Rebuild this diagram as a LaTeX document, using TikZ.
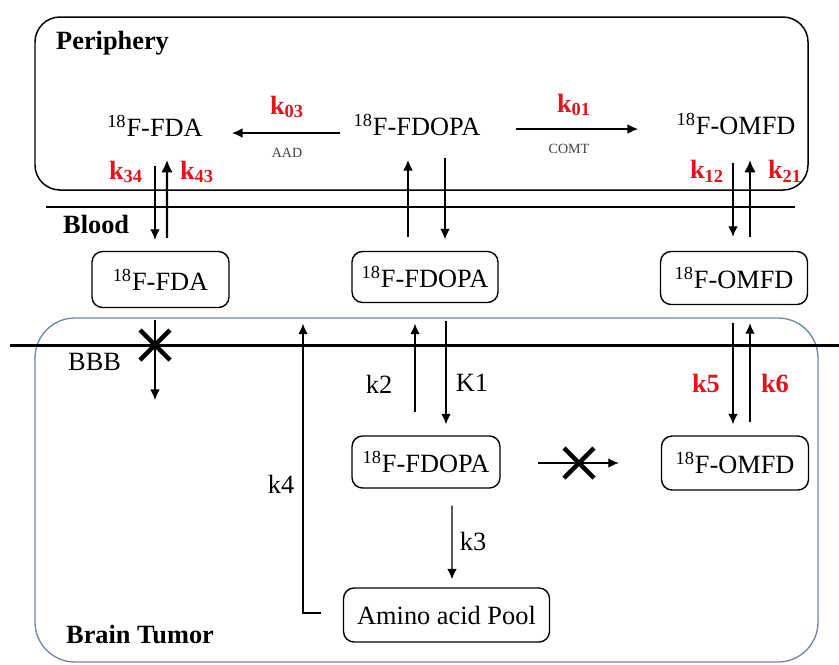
\documentclass[tikz,border=0pt]{standalone}
\usepackage{fontspec}
\setmainfont{Liberation Serif}
\usetikzlibrary{arrows.meta}
\definecolor{kred}{RGB}{228,18,28}
\definecolor{tumorblue}{RGB}{112,132,168}

\begin{document}
\begin{tikzpicture}[x=0.02cm, y=-0.02cm,
    txt/.style={font=\fontsize{15}{18}\selectfont},
    box/.style={draw, line width=0.8pt, rounded corners=6pt, txt, inner sep=0pt},
    zone/.style={font=\bfseries\fontsize{15}{18}\selectfont, anchor=west},
    krate/.style={font=\bfseries\fontsize{15}{18}\selectfont, text=kred},
    enz/.style={font=\fontsize{8}{10}\selectfont, text=black!75},
    arr/.style={-{Latex[length=6pt,width=5.5pt]}, line width=0.75pt},
    boldarr/.style={-{Latex[length=7pt,width=6.5pt]}, line width=1.2pt},
    cross/.style={line width=2.6pt}]
    \useasboundingbox (0,0) rectangle (839,664);

    % Periphery compartment
    \draw[line width=0.85pt, rounded corners=0.5cm] (35,17) rectangle (808,190);
    \node[zone] (periphery) at (50,43) {Periphery};
    \node[txt] (pFDA) at (155,126) {\textsuperscript{18}F-FDA};
    \node[txt] (pFDOPA) at (417,125) {\textsuperscript{18}F-FDOPA};
    \node[txt] (pOMFD) at (736,124) {\textsuperscript{18}F-OMFD};

    % Peripheral metabolism
    \draw[arr] ([shift={(-77,8)}]pFDOPA.center) -- ([shift={(77,7)}]pFDA.center);
    \node[krate] (k03) at (287,107) {k\textsubscript{03}};
    \node[enz] (aad) at (287,153) {AAD};
    \draw[arr] ([shift={(99,4)}]pFDOPA.center) -- ([shift={(-98,5)}]pOMFD.center);
    \node[krate] (k01) at (574,105) {k\textsubscript{01}};
    \node[enz] (comt) at (569,149) {COMT};

    % Blood
    \draw[line width=0.75pt] (46,207) -- (795,207);
    \node[zone] (blood) at (57,224) {Blood};
    \node[box, minimum width=2.74cm, minimum height=1.12cm] (bFDA) at (160.5,279.5) {\textsuperscript{18}F-FDA};
    \node[box, minimum width=2.92cm, minimum height=1.02cm] (bFDOPA) at (425,277) {\textsuperscript{18}F-FDOPA};
    \node[box, minimum width=2.94cm, minimum height=1.06cm] (bOMFD) at (734,278) {\textsuperscript{18}F-OMFD};

    % Periphery <-> blood exchange
    \draw[arr] ([shift={(0,40)}]pFDA.center) -- ([shift={(-5.5,-11)}]bFDA.north);
    \draw[boldarr] ([shift={(6.5,-13)}]bFDA.north) -- ([shift={(12,34)}]pFDA.center);
    \node[krate] (k34) at (126,172) {k\textsubscript{34}};
    \node[krate] (k43) at (197,172) {k\textsubscript{43}};
    \draw[arr] ([shift={(-17,-13.5)}]bFDOPA.north) -- ([shift={(-9,35)}]pFDOPA.center);
    \draw[arr] ([shift={(28,33)}]pFDOPA.center) -- ([shift={(20,-11.5)}]bFDOPA.north);
    \draw[arr] ([shift={(-3,39)}]pOMFD.center) -- ([shift={(-1,-14)}]bOMFD.north);
    \draw[boldarr] ([shift={(16,-14)}]bOMFD.north) -- ([shift={(14,36)}]pOMFD.center);
    \node[krate] (k12) at (707,171) {k\textsubscript{12}};
    \node[krate] (k21) at (785,171) {k\textsubscript{21}};

    % Brain tumor compartment and BBB
    \draw[tumorblue, line width=0.75pt, rounded corners=0.8cm] (35,318) rectangle (818,662);
    \draw[line width=1.7pt] (10,345) -- (839,345);
    \node[txt, anchor=west] (bbb) at (62,362) {BBB};
    \node[zone] (tumor) at (60,635) {Brain Tumor};
    \node[box, minimum width=2.96cm, minimum height=1.04cm] (tFDOPA) at (426,462) {\textsuperscript{18}F-FDOPA};
    \node[box, minimum width=2.94cm, minimum height=1.08cm] (tOMFD) at (735,463) {\textsuperscript{18}F-OMFD};
    \node[box, minimum width=4.12cm, minimum height=1.08cm] (pool) at (446.5,615) {Amino acid Pool};

    % FDA blocked at the BBB
    \coordinate (fdaStop) at (155,400);
    \coordinate (bbbX) at (155,345);
    \draw[arr] ([shift={(-5.5,12)}]bFDA.south) -- (fdaStop);
    \draw[cross] (bbbX) +(-15,-15) -- +(15,15) +(-15,15) -- +(15,-15);

    % FDOPA transport
    \draw[arr] ([shift={(-11,-23)}]tFDOPA.north) -- ([shift={(-10,20.5)}]bFDOPA.south);
    \draw[arr] ([shift={(21,17.5)}]bFDOPA.south) -- ([shift={(20,-11)}]tFDOPA.north);
    \node[txt] (k2) at (379,384) {k2};
    \node[txt] (K1) at (472,383) {K1};
    \draw[arr] ([shift={(26,17)}]tFDOPA.south) -- ([shift={(5.5,-8)}]pool.north);
    \node[txt] (k3) at (473,541) {k3};
    \draw[arr] ([shift={(-22,-2)}]pool.west) -| ([shift={(-122,20.5)}]bFDOPA.south);
    \node[txt] (k4) at (281,484) {k4};

    % No central COMT conversion
    \coordinate (comtX) at (579,463);
    \draw[arr] ([shift={(37,1)}]tFDOPA.east) -- ([shift={(-42,0)}]tOMFD.west);
    \draw[cross] (comtX) +(-15,-15) -- +(15,15) +(-15,15) -- +(15,-15);

    % OMFD exchange
    \draw[arr] ([shift={(-1,18)}]bOMFD.south) -- ([shift={(-2,-11)}]tOMFD.north);
    \draw[arr] ([shift={(15,-13)}]tOMFD.north) -- ([shift={(16,18)}]bOMFD.south);
    \node[krate] (k5) at (706,383) {k5};
    \node[krate] (k6) at (775,383) {k6};
\end{tikzpicture}
\end{document}
